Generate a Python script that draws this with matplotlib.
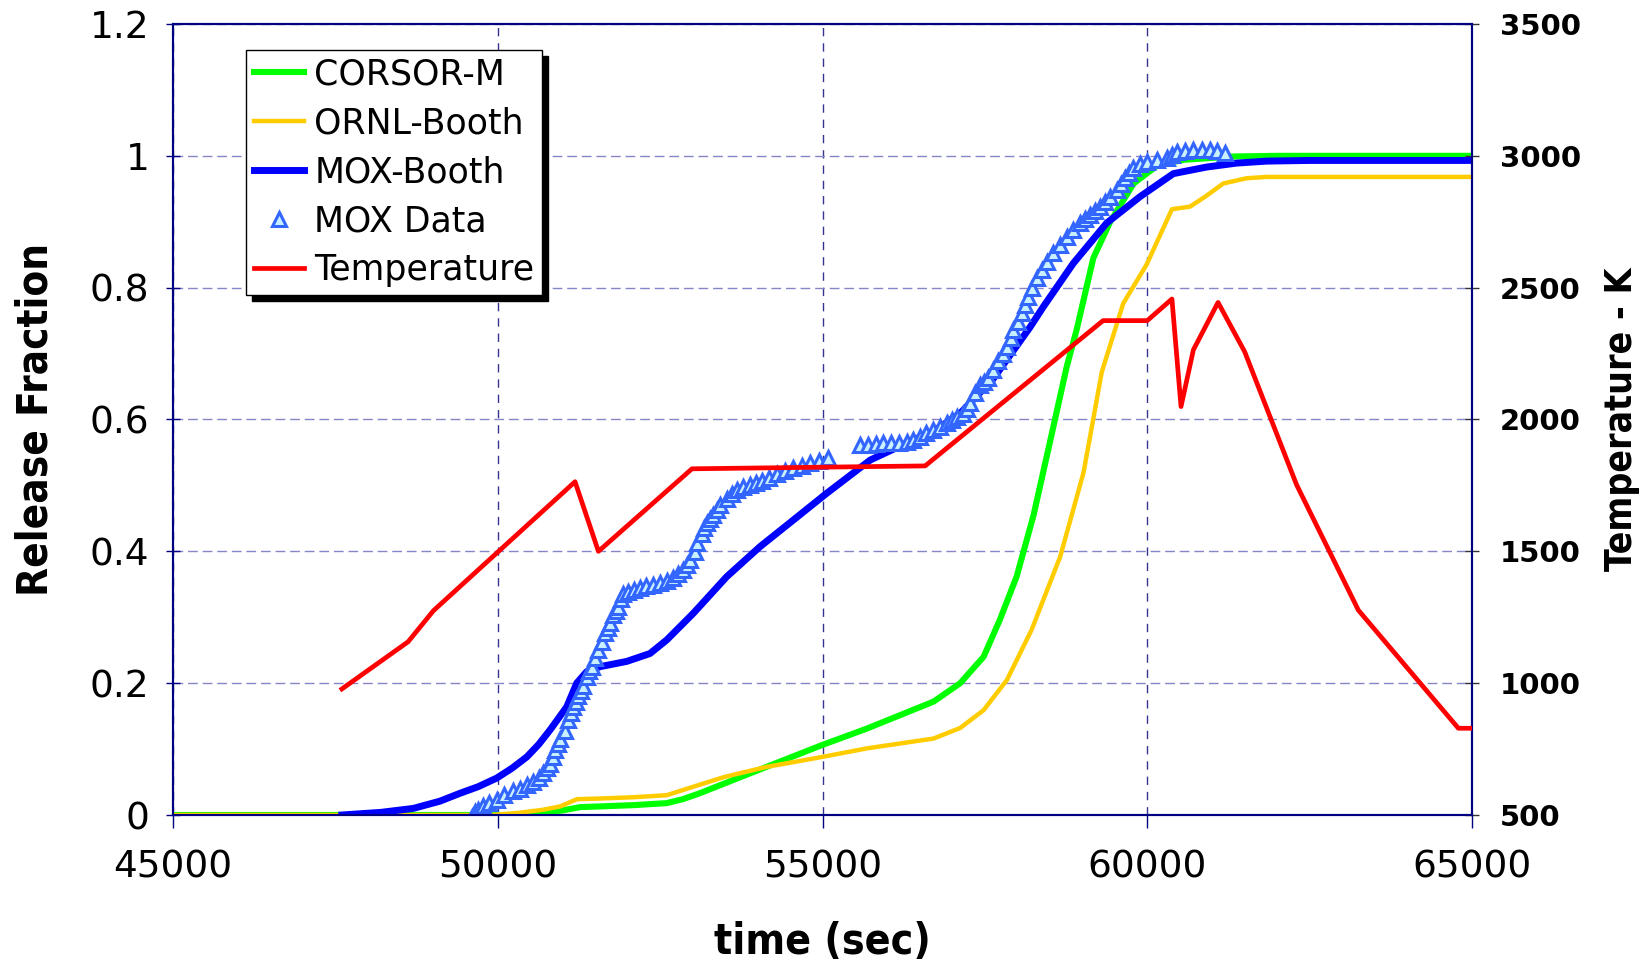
import matplotlib
matplotlib.use("Agg")
import matplotlib.pyplot as plt
from matplotlib.lines import Line2D
from matplotlib import font_manager

# --- release fraction curves (time in s) ---
corsor_t = [45000, 50300, 50700, 51000, 51270, 51570, 52100, 52600, 52850, 53110, 53880, 54990,
            55680, 56710, 57120, 57480, 57730, 57990, 58250, 58500, 58760, 58910, 59170, 59430,
            59790, 60150, 60560, 61330, 62000, 65000]
corsor_rf = [0.0, 0.0, 0.003, 0.007, 0.012, 0.013, 0.015, 0.018, 0.024, 0.033, 0.063, 0.106,
             0.131, 0.172, 0.200, 0.240, 0.296, 0.362, 0.455, 0.565, 0.680, 0.735, 0.845, 0.900,
             0.958, 0.985, 0.994, 0.999, 1.0, 1.0]

ornl_t = [45000, 49900, 50300, 50700, 50960, 51220, 51570, 52100, 52600, 53110, 53500, 54140,
          54990, 55680, 56710, 57120, 57480, 57840, 58220, 58660, 59020, 59300, 59630, 59990,
          60380, 60660, 60920, 61170, 61530, 61840, 65000]
ornl_rf = [0.0, 0.0, 0.003, 0.008, 0.013, 0.024, 0.025, 0.027, 0.030, 0.046, 0.058, 0.073,
           0.088, 0.101, 0.116, 0.132, 0.159, 0.205, 0.281, 0.392, 0.520, 0.672, 0.776, 0.835,
           0.919, 0.923, 0.940, 0.958, 0.966, 0.968, 0.968]

mox_booth_t = [47600, 48200, 48700, 49110, 49420, 49700, 49984, 50220, 50446, 50630, 50805,
               51062, 51216, 51370, 51574, 51985, 52344, 52601, 53011, 53525, 54037, 54551,
               55064, 55735, 56200, 56706, 57117, 57630, 58195, 58400, 58862, 59375, 59888,
               60402, 60915, 61377, 61839, 62500, 65000]
mox_booth_rf = [0.0, 0.004, 0.010, 0.021, 0.033, 0.043, 0.056, 0.071, 0.088, 0.107, 0.129,
                0.164, 0.200, 0.2175, 0.225, 0.233, 0.245, 0.2655, 0.306, 0.3615, 0.407, 0.4475,
                0.488, 0.5385, 0.560, 0.582, 0.609, 0.662, 0.740, 0.771, 0.837, 0.898, 0.938,
                0.973, 0.983, 0.989, 0.992, 0.993, 0.993]

# measured MOX release
mox_data_t = [49600, 49650, 49701, 49780, 49860, 49984, 50100, 50230, 50343, 50450, 50548, 50630,
              50702, 50760, 50805, 50845, 50882, 50920, 50958, 51035, 51086, 51125, 51163, 51200,
              51240, 51280, 51317, 51370, 51410, 51447, 51497, 51548, 51601, 51651, 51690, 51728,
              51779, 51820, 51856, 51900, 51933, 52010, 52100, 52190, 52290, 52390, 52498, 52600,
              52703, 52780, 52857, 52910, 52960, 53037, 53073, 53140, 53180, 53217, 53270, 53319,
              53370, 53422, 53525, 53600, 53679, 53780, 53884, 53970, 54064, 54180, 54295, 54420,
              54551, 54680, 54808, 54950, 55089,
              55578, 55700, 55820, 55936, 56060, 56180, 56296, 56400, 56501, 56600, 56706, 56810,
              56912, 56990, 57066, 57168, 57220, 57271, 57348, 57425, 57490, 57553, 57630, 57707,
              57784, 57836, 57897, 57938, 58015, 58067, 58118, 58169, 58221, 58298, 58375, 58452,
              58554, 58657, 58760, 58862, 58965, 59040, 59118, 59190, 59273, 59350, 59427, 59529,
              59600, 59657, 59720, 59786, 59890, 59991, 60150, 60299, 60380, 60453, 60580, 60710,
              60840, 60966, 61080, 61197]
mox_data_rf = [-0.003, 0.004, 0.008, 0.013, 0.018, 0.022, 0.030, 0.036, 0.040, 0.045, 0.050, 0.056,
               0.063, 0.071, 0.078, 0.088, 0.099, 0.108, 0.116, 0.128, 0.144, 0.154, 0.164, 0.172,
               0.180, 0.188, 0.196, 0.210, 0.218, 0.225, 0.238, 0.250, 0.263, 0.276, 0.284, 0.291,
               0.303, 0.310, 0.316, 0.327, 0.336, 0.339, 0.342, 0.344, 0.347, 0.349, 0.352, 0.355,
               0.359, 0.365, 0.372, 0.379, 0.387, 0.399, 0.412, 0.427, 0.435, 0.443, 0.449, 0.455,
               0.463, 0.470, 0.480, 0.487, 0.493, 0.497, 0.501, 0.503, 0.506, 0.512, 0.518, 0.522,
               0.526, 0.530, 0.534, 0.537, 0.541,
               0.561, 0.562, 0.563, 0.564, 0.565, 0.565, 0.566, 0.569, 0.574, 0.579, 0.584, 0.589,
               0.594, 0.599, 0.604, 0.609, 0.616, 0.625, 0.640, 0.652, 0.657, 0.663, 0.675, 0.688,
               0.700, 0.710, 0.723, 0.736, 0.748, 0.761, 0.774, 0.786, 0.799, 0.814, 0.827, 0.839,
               0.852, 0.865, 0.877, 0.887, 0.898, 0.904, 0.910, 0.916, 0.923, 0.930, 0.938, 0.948,
               0.957, 0.966, 0.974, 0.981, 0.987, 0.991, 0.994, 0.996, 1.001, 1.006, 1.008, 1.009,
               1.009, 1.009, 1.007, 1.004]

# --- fuel temperature (K) ---
temp_t = [47600, 48620, 49010, 51190, 51550, 52990, 56580, 59320, 60000, 60380, 60520, 60710,
          61090, 61500, 62300, 63250, 64790, 65000]
temp_k = [978, 1157, 1275, 1764, 1500, 1813, 1824, 2375, 2375, 2457, 2049, 2264,
          2444, 2257, 1752, 1277, 829, 829]

x_ticks = [45000, 50000, 55000, 60000, 65000]
rf_ticks = [0, 0.2, 0.4, 0.6, 0.8, 1.0, 1.2]
rf_labels = ['0', '0.2', '0.4', '0.6', '0.8', '1', '1.2']
temp_ticks = [500, 1000, 1500, 2000, 2500, 3000, 3500]

NAVY = '#000080'
W, H = 1643, 968

names = {f.name for f in font_manager.fontManager.ttflist}
if 'Liberation Sans Narrow' in names:
    label_font = dict(family='Liberation Sans Narrow', fontweight='bold')
else:
    label_font = dict(family='DejaVu Sans', fontweight='bold', fontstretch='condensed')

fig = plt.figure(figsize=(W / 100, H / 100), dpi=100)
ax = fig.add_axes([173 / W, 1 - 815 / H, 1299 / W, 791 / H])
ax2 = ax.twinx()

LW_G, LW_Y, LW_B, LW_R = 4.4, 3.2, 5.0, 3.4
marker_kw = dict(ls='none', marker='^', ms=10, mfc='#c8f0ff', mec='#3366ff', mew=2.2)

ax.plot(corsor_t, corsor_rf, color='#00ff00', lw=LW_G, zorder=3)
ax.plot(ornl_t, ornl_rf, color='#ffcc00', lw=LW_Y, zorder=3)
ax.plot(mox_booth_t, mox_booth_rf, color='#0000ff', lw=LW_B, zorder=4)
ax.plot(mox_data_t, mox_data_rf, zorder=5, **marker_kw)
ax2.plot(temp_t, temp_k, color='#ff0000', lw=LW_R, zorder=3)

ax.set_xlim(45000, 65000)
ax.set_ylim(0, 1.2)
ax2.set_ylim(500, 3500)
ax.set_xticks(x_ticks)
ax.set_xticklabels([str(v) for v in x_ticks])
ax.set_yticks(rf_ticks)
ax.set_yticklabels(rf_labels)
ax2.set_yticks(temp_ticks)
ax2.set_yticklabels([str(v) for v in temp_ticks])

for a in (ax, ax2):
    for s in a.spines.values():
        s.set_color(NAVY)
        s.set_linewidth(1.5)

ax.tick_params(axis='x', direction='out', length=9, width=1, color=NAVY, pad=16,
               labelsize=27)
ax.tick_params(axis='y', direction='inout', length=10, width=1, color=NAVY, pad=12,
               labelsize=27)
ax2.tick_params(axis='y', direction='inout', length=10, width=1, color='#333333', pad=15,
                labelsize=21)
for lbl in ax2.get_yticklabels():
    lbl.set_fontweight('bold')

# dashed grid: light horizontal, darker vertical
ax.yaxis.grid(True, color='#8585c8', lw=1, dashes=(7, 3.5))
ax.xaxis.grid(True, color='#35358f', lw=1, dashes=(6, 5))
ax.set_axisbelow(True)

ylab = fig.text(36 / W, 1 - 419 / H, 'Release Fraction', rotation=90, ha='center',
                va='center', fontsize=30, **label_font)
y2lab = fig.text(1622 / W, 1 - 419 / H, 'Temperature - K', rotation=90, ha='center',
                 va='center', fontsize=28, **label_font)
xlab = fig.text(822 / W, 1 - 942 / H, 'time (sec)', ha='center', va='center',
                fontsize=30, **label_font)

handles = [
    Line2D([], [], color='#00ff00', lw=LW_G),
    Line2D([], [], color='#ffcc00', lw=LW_Y),
    Line2D([], [], color='#0000ff', lw=LW_B),
    Line2D([], [], **marker_kw),
    Line2D([], [], color='#ff0000', lw=LW_R),
]
labels = ['CORSOR-M', 'ORNL-Booth', 'MOX-Booth', 'MOX Data', 'Temperature']
leg = ax2.legend(handles, labels, loc='upper left',
                 bbox_to_anchor=(246 / W, 1 - 50 / H), bbox_transform=fig.transFigure,
                 fontsize=25, fancybox=False, framealpha=1, edgecolor='black',
                 handlelength=1.45, handletextpad=0.3, labelspacing=0.43,
                 borderpad=0.22, borderaxespad=0,
                 shadow={'ox': 4.5, 'oy': -4.5, 'facecolor': 'black',
                         'edgecolor': 'black', 'alpha': 1})
leg.get_frame().set_linewidth(1.0)

# scale the axis titles to their drawn lengths
fig.canvas.draw()
for txt, length, vertical in ((ylab, 352, True), (y2lab, 304, True), (xlab, 217, False)):
    bb = txt.get_window_extent()
    cur = bb.height if vertical else bb.width
    txt.set_fontsize(txt.get_fontsize() * length / cur)

fig.savefig('out.png', dpi=100)
